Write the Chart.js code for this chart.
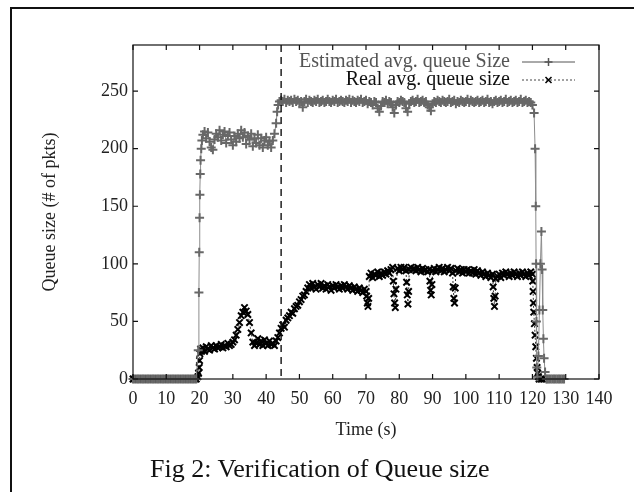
<!DOCTYPE html>
<html>
<head>
<meta charset="utf-8">
<script src="https://cdn.jsdelivr.net/npm/chart.js@4/dist/chart.umd.min.js"></script>
<style>
  body { margin: 0; background: #fff; }
  #wrap { position: relative; width: 634px; height: 492px; overflow: hidden; }
  #frame { position: absolute; left: 10px; top: 7px; right: -30px; bottom: -30px;
           border-left: 2px solid #111; border-top: 2px solid #111; }
  #queueChart { position: absolute; left: 0; top: 0; }
  #caption { position: absolute; left: 150px; top: 454px; line-height: 30px;
             font-family: "Liberation Serif", serif; font-size: 26px; color: #111; white-space: nowrap; }
</style>
</head>
<body>
<div id="wrap">
  <div id="frame"></div>
  <canvas id="queueChart" width="634" height="492"></canvas>
  <div id="caption">Fig 2: Verification of Queue size</div>
</div>
<script>
// estimated avg. queue size (time in s, size in pkts)
const estTime = [
  0,0.5,1,1.5,2,2.5,3,3.5,4,4.5,5,5.5,6,6.5,7,7.5,8,8.5,9,9.5,
  10,10.5,11,11.5,12,12.5,13,13.5,14,14.5,15,15.5,16,16.5,17,17.5,18,18.5,19,
  19.6,19.8,19.9,20,20.1,20.2,20.3,20.5,20.7,
  21,21.5,22,22.5,23,23.5,24,24.5,25,25.5,
  26,26.5,27,27.5,28,28.5,29,29.5,30,30.5,
  31,31.5,32,32.5,33,33.5,34,34.5,35,35.5,
  36,36.5,37,37.5,38,38.5,39,39.5,40,40.5,
  41,41.5,42,42.5,
  43,43.3,43.6,44,
  44.5,45,45.5,46,46.5,47,47.5,48,48.5,49,
  49.5,50,50.5,51,51.5,52,52.5,53,53.5,54,
  54.5,55,55.5,56,56.5,57,57.5,58,58.5,59,
  59.5,60,60.5,61,61.5,62,62.5,63,63.5,64,
  64.5,65,65.5,66,66.5,67,67.5,68,68.5,69,
  69.5,70,70.5,71,71.5,72,72.5,73,73.5,74,
  74.5,75,75.5,76,76.5,77,77.5,78,78.5,79,
  79.5,80,80.5,81,81.5,82,82.5,83,83.5,84,
  84.5,85,85.5,86,86.5,87,87.5,88,88.5,89,
  89.5,90,90.5,91,91.5,92,92.5,93,93.5,94,
  94.5,95,95.5,96,96.5,97,97.5,98,98.5,99,
  99.5,100,100.5,101,101.5,102,102.5,103,103.5,104,
  104.5,105,105.5,106,106.5,107,107.5,108,108.5,109,
  109.5,110,110.5,111,111.5,112,112.5,113,113.5,114,
  114.5,115,115.5,116,116.5,117,117.5,118,118.5,119,
  119.5,120,
  120.5,120.8,121,121.1,121.2,121.3,121.5,121.8,122.1,122.4,
  122.7,122.9,123.1,123.3,123.5,123.8,124.2,124.5,125,125.5,
  126,126.5,127,127.5,128,128.5,129,129.5];
const estQueue = [
  0,0,0,0,0,0,0,0,0,0,0,0,0,0,0,0,0,0,0,0,
  0,0,0,0,0,0,0,0,0,0,0,0,0,0,0,0,0,0,0,
  25,75,110,140,160,178,190,200,207,
  212,215,209,214,206,201,199,208,213,210,
  216,207,212,215,205,211,214,208,203,211,
  206,213,209,216,210,214,204,211,208,213,
  202,209,205,212,203,209,201,207,210,203,
  206,201,207,213,
  222,232,238,241,
  242,241,243,240,242,241,242,240,243,241,
  242,240,241,236,241,243,240,242,241,240,
  242,241,243,240,241,242,240,241,243,241,
  240,242,241,243,240,241,242,241,240,242,
  241,243,240,242,241,240,242,241,243,240,
  241,242,239,241,240,238,241,240,235,232,
  237,241,240,242,239,241,240,236,231,238,
  241,240,242,241,240,235,232,239,241,242,
  240,241,243,240,241,242,240,241,238,236,
  233,239,241,240,242,241,240,242,241,240,
  241,243,240,241,242,239,241,240,242,241,
  240,241,243,240,242,241,240,241,242,240,
  241,242,240,241,243,240,241,239,241,242,
  240,241,242,240,241,243,240,241,242,240,
  241,242,240,241,243,240,241,242,240,241,
  240,238,
  231,200,150,100,50,10,2,20,60,100,
  128,95,60,35,18,6,0,0,0,0,
  0,0,0,0,0,0,0,0];

// real avg. queue size
const realTime = [
  0,0.5,1,1.5,2,2.5,3,3.5,4,4.5,5,5.5,6,6.5,7,7.5,8,8.5,9,9.5,
  10,10.5,11,11.5,12,12.5,13,13.5,14,14.5,15,15.5,16,16.5,17,17.5,18,18.5,19,
  19.5,19.7,19.9,20,20.1,20.3,20.6,
  21,21.5,22,22.5,23,23.5,24,24.5,25,25.5,
  26,26.5,27,27.5,28,28.5,29,29.5,30,30.5,
  31,31.5,32,32.5,33,33.5,34,34.5,35,35.5,
  36,36.5,37,37.5,38,38.5,39,39.5,40,40.5,
  41,41.5,42,42.5,43,
  43.5,44,44.5,45,45.5,46,46.5,47,47.5,48,
  48.5,49,49.5,50,50.5,51,51.5,52,52.5,53,
  53.5,54,54.5,55,55.5,56,56.5,57,57.5,58,
  58.5,59,59.5,60,60.5,61,61.5,62,62.5,63,
  63.5,64,64.5,65,65.5,66,66.5,67,67.5,68,
  68.5,69,69.5,70,
  70.2,70.4,70.6,70.8,
  71,71.5,72,72.5,73,73.5,74,74.5,75,75.5,
  76,76.5,77,77.5,78,78.2,78.4,78.6,78.8,79,
  79.5,80,80.5,81,81.5,82,82.2,82.4,82.6,82.8,
  83,83.5,84,84.5,85,85.5,86,86.5,87,87.5,
  88,88.5,89,89.2,89.4,89.6,89.8,90,90.5,91,
  91.5,92,92.5,93,93.5,94,94.5,95,95.5,96,
  96.2,96.4,96.6,96.8,97,97.5,98,98.5,99,99.5,
  100,100.5,101,101.5,102,102.5,103,103.5,104,104.5,
  105,105.5,106,106.5,107,107.5,108,108.2,108.4,108.6,
  108.8,109,109.5,110,110.5,111,111.5,112,112.5,113,
  113.5,114,114.5,115,115.5,116,116.5,117,117.5,118,
  118.5,119,119.5,120,
  120.1,120.2,120.3,120.4,120.6,120.8,121,121.2,121.4,121.6,
  121.8,122,122.5,123];
const realQueue = [
  0,0,0,0,0,0,0,0,0,0,0,0,0,0,0,0,0,0,0,0,
  0,0,0,0,0,0,0,0,0,0,0,0,0,0,0,0,0,0,0,
  2,5,10,16,22,26,24,
  27,24,28,26,25,29,27,26,29,27,
  28,30,27,29,28,31,29,30,32,34,
  38,43,49,55,58,62,59,56,49,40,
  32,29,31,35,30,33,29,34,31,29,
  33,30,31,29,33,
  36,40,44,47,45,51,53,55,58,57,
  61,63,64,67,69,72,73,76,79,82,
  79,83,80,78,82,80,83,79,81,78,
  82,80,77,81,79,82,80,78,81,79,
  82,80,78,81,79,77,80,78,76,79,
  77,75,78,76,
  72,66,63,70,
  89,92,88,91,90,93,89,92,90,93,
  91,94,92,95,97,85,74,66,62,78,
  96,94,97,95,97,94,84,73,65,76,
  95,97,95,96,94,97,95,93,96,94,
  95,93,95,85,77,73,82,94,96,93,
  95,97,94,96,93,95,97,94,96,92,
  80,70,66,79,94,96,93,95,92,95,
  93,95,92,94,92,95,91,94,92,90,
  93,91,89,92,90,88,91,80,70,63,
  72,87,89,91,88,92,90,93,91,89,
  92,90,93,91,89,92,90,93,91,89,
  92,90,93,91,
  85,76,66,58,48,38,28,18,10,5,
  2,0,0,0];

const xTickStep = 10;
const yTickStep = 50;
const splitTime = 44.5;

if (estTime.length !== estQueue.length || realTime.length !== realQueue.length) {
  throw new Error(`length mismatch ${estTime.length}/${estQueue.length} ${realTime.length}/${realQueue.length}`);
}

const toPoints = (ts, vs) => ts.map((t, i) => ({ x: t, y: vs[i] }));

// gnuplot-style frame, inward ticks, dashed marker and key
const gnuplotDecor = {
  id: "gnuplotDecor",
  afterDraw(chart) {
    const { ctx, chartArea: a, scales } = chart;
    const xs = scales.x, ys = scales.y;
    ctx.save();
    ctx.strokeStyle = "#111";
    ctx.lineWidth = 1.2;
    ctx.strokeRect(a.left, a.top, a.right - a.left, a.bottom - a.top);
    ctx.beginPath();
    xs.ticks.forEach((t) => {
      const px = xs.getPixelForValue(t.value);
      ctx.moveTo(px, a.bottom); ctx.lineTo(px, a.bottom - 5);
      ctx.moveTo(px, a.top); ctx.lineTo(px, a.top + 5);
    });
    ys.ticks.forEach((t) => {
      const py = ys.getPixelForValue(t.value);
      ctx.moveTo(a.left, py); ctx.lineTo(a.left + 5, py);
      ctx.moveTo(a.right, py); ctx.lineTo(a.right - 5, py);
    });
    ctx.stroke();

    // dashed line where the estimate switches
    const sx = xs.getPixelForValue(splitTime);
    ctx.setLineDash([7, 5]);
    ctx.lineWidth = 1.4;
    ctx.beginPath();
    ctx.moveTo(sx, a.top); ctx.lineTo(sx, a.bottom);
    ctx.stroke();
    ctx.setLineDash([]);

    // key, top right
    const textRight = a.right - 89;
    const s0 = a.right - 77, s1 = a.right - 24, sm = (s0 + s1) / 2;
    const rows = [
      { label: "Estimated avg. queue Size", y: a.top + 17, color: "#555", dash: [], mark: "plus" },
      { label: "Real avg. queue size", y: a.top + 35, color: "#111", dash: [2, 2], mark: "x" },
    ];
    ctx.font = '20px "Liberation Serif"';
    ctx.textAlign = "right";
    ctx.textBaseline = "middle";
    rows.forEach((r) => {
      ctx.fillStyle = r.color;
      ctx.fillText(r.label, textRight, r.y);
      ctx.strokeStyle = r.mark === "plus" ? "#555" : "#444";
      ctx.lineWidth = 1;
      ctx.setLineDash(r.dash);
      ctx.beginPath();
      ctx.moveTo(s0, r.y); ctx.lineTo(s1, r.y);
      ctx.stroke();
      ctx.setLineDash([]);
      ctx.strokeStyle = r.mark === "plus" ? "#555" : "#000";
      ctx.lineWidth = 1.5;
      ctx.beginPath();
      if (r.mark === "plus") {
        ctx.moveTo(sm - 4, r.y); ctx.lineTo(sm + 4, r.y);
        ctx.moveTo(sm, r.y - 4); ctx.lineTo(sm, r.y + 4);
      } else {
        ctx.moveTo(sm - 3, r.y - 3); ctx.lineTo(sm + 3, r.y + 3);
        ctx.moveTo(sm - 3, r.y + 3); ctx.lineTo(sm + 3, r.y - 3);
      }
      ctx.stroke();
    });
    ctx.restore();
  },
};

const serif = "'Liberation Serif', 'Times New Roman', serif";

new Chart(document.getElementById("queueChart").getContext("2d"), {
  type: "scatter",
  data: {
    datasets: [
      {
        label: "Estimated avg. queue Size",
        data: toPoints(estTime, estQueue),
        showLine: true,
        borderColor: "#8c8c8c",
        borderWidth: 1,
        pointStyle: "cross",
        pointRadius: 4.5,
        pointBorderColor: "#686868",
        pointBorderWidth: 2,
        clip: false,
      },
      {
        label: "Real avg. queue size",
        data: toPoints(realTime, realQueue),
        showLine: true,
        borderColor: "#333",
        borderWidth: 1,
        borderDash: [2, 2],
        pointStyle: "crossRot",
        pointRadius: 4.5,
        pointBorderColor: "#000",
        pointBorderWidth: 2,
        clip: false,
      },
    ],
  },
  options: {
    responsive: false,
    animation: false,
    devicePixelRatio: 1,
    layout: { padding: { left: 35, right: 35, top: 45, bottom: 47 } },
    plugins: { legend: { display: false }, tooltip: { enabled: false } },
    scales: {
      x: {
        type: "linear",
        min: 0,
        max: 140,
        grid: { display: false, drawTicks: false },
        border: { display: false },
        ticks: { stepSize: xTickStep, padding: 9, color: "#222", maxRotation: 0, autoSkip: false,
                 includeBounds: false, font: { family: serif, size: 18 } },
        title: { display: true, text: "Time (s)", color: "#222", font: { family: serif, size: 18 },
                 padding: { top: 4, bottom: 4 } },
        afterFit: (scale) => { scale.height = 66; },
      },
      y: {
        type: "linear",
        min: 0,
        max: 290,
        grid: { display: false, drawTicks: false },
        border: { display: false },
        ticks: { stepSize: yTickStep, padding: 5, color: "#222", includeBounds: false,
                 font: { family: serif, size: 18 } },
        title: { display: true, text: "Queue size (# of pkts)", color: "#222",
                 font: { family: serif, size: 18 }, padding: { top: 4, bottom: 4 } },
        afterFit: (scale) => { scale.width = 98; },
      },
    },
  },
  plugins: [gnuplotDecor],
});
</script>
</body>
</html>
